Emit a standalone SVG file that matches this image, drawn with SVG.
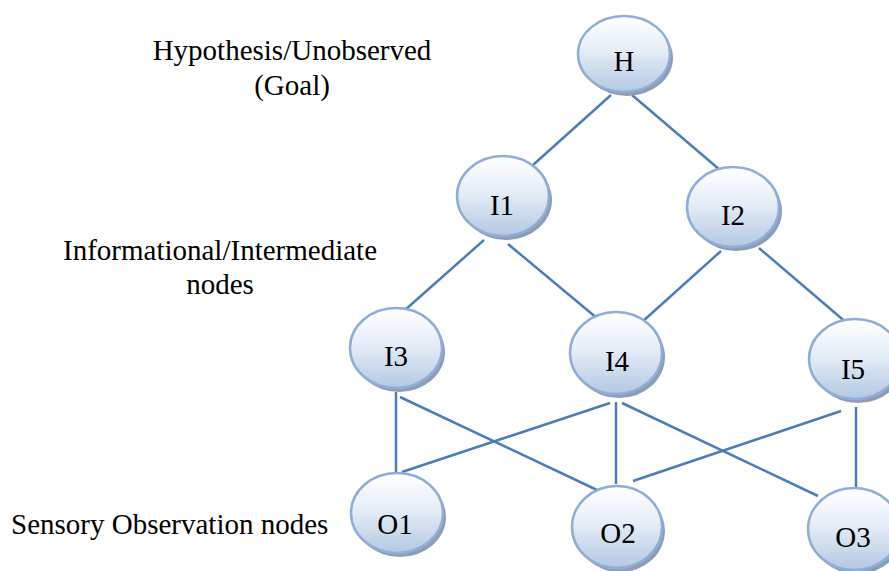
<svg xmlns="http://www.w3.org/2000/svg" width="889" height="571" viewBox="0 0 889 571">
  <defs>
    <linearGradient id="nodeFill" x1="0" y1="0" x2="0" y2="1">
      <stop offset="0" stop-color="#ffffff"/>
      <stop offset="0.45" stop-color="#e6edf7"/>
      <stop offset="1" stop-color="#b3c8e2"/>
    </linearGradient>
  </defs>
  <style>
    .bg { fill: #ffffff; }
    .edge { stroke: #4a7ebb; stroke-width: 2.5; fill: none; }
    .shadow { fill: #8f9db3; }
    .body { fill: url(#nodeFill); stroke: #8fadd9; stroke-width: 2.5; }
    .nlabel { font-family: "Liberation Serif", "Times New Roman", serif; font-size: 29px; fill: #000000; text-anchor: middle; }
    .caption { font-family: "Liberation Serif", "Times New Roman", serif; font-size: 29px; fill: #000000; }
  </style>
  <rect class="bg" x="0" y="0" width="889" height="571"/>

  <!-- level captions -->
  <g id="captions">
    <text class="caption" x="292" y="60" text-anchor="middle">Hypothesis/Unobserved</text>
    <text class="caption" x="292" y="95" text-anchor="middle">(Goal)</text>
    <text class="caption" x="220" y="260" text-anchor="middle">Informational/Intermediate</text>
    <text class="caption" x="220" y="294" text-anchor="middle">nodes</text>
    <text class="caption" x="11" y="534">Sensory Observation nodes</text>
  </g>

  <!-- connectors -->
  <g id="connectors">
    <line class="edge" x1="611" y1="95" x2="533" y2="165"/>
    <line class="edge" x1="632" y1="95" x2="720" y2="170"/>
    <line class="edge" x1="484" y1="240" x2="405" y2="310"/>
    <line class="edge" x1="508" y1="244" x2="598" y2="319"/>
    <line class="edge" x1="721" y1="251" x2="642" y2="322"/>
    <line class="edge" x1="759" y1="248" x2="848" y2="324"/>
    <line class="edge" x1="396" y1="392" x2="396" y2="473"/>
    <line class="edge" x1="400" y1="397" x2="597" y2="490"/>
    <line class="edge" x1="610" y1="403" x2="402" y2="472"/>
    <line class="edge" x1="616" y1="402" x2="616" y2="484"/>
    <line class="edge" x1="622" y1="403" x2="818" y2="496"/>
    <line class="edge" x1="841" y1="411" x2="633" y2="481"/>
    <line class="edge" x1="856" y1="407" x2="856" y2="490"/>
  </g>

  <!-- nodes -->
  <g id="node-H">
    <ellipse class="shadow" cx="627" cy="58" rx="46" ry="38"/>
    <ellipse class="body" cx="624" cy="54" rx="46" ry="38"/>
    <text class="nlabel" x="624" y="71">H</text>
  </g>
  <g id="node-I1">
    <ellipse class="shadow" cx="506" cy="200" rx="46" ry="40"/>
    <ellipse class="body" cx="503" cy="196" rx="46" ry="40"/>
    <text class="nlabel" x="502" y="215">I1</text>
  </g>
  <g id="node-I2">
    <ellipse class="shadow" cx="736" cy="211" rx="46" ry="40"/>
    <ellipse class="body" cx="733" cy="207" rx="46" ry="40"/>
    <text class="nlabel" x="733" y="225">I2</text>
  </g>
  <g id="node-I3">
    <ellipse class="shadow" cx="399" cy="352" rx="46" ry="40"/>
    <ellipse class="body" cx="396" cy="348" rx="46" ry="40"/>
    <text class="nlabel" x="396" y="366">I3</text>
  </g>
  <g id="node-I4">
    <ellipse class="shadow" cx="619" cy="357" rx="46" ry="41"/>
    <ellipse class="body" cx="616" cy="353" rx="46" ry="41"/>
    <text class="nlabel" x="617" y="371">I4</text>
  </g>
  <g id="node-I5">
    <ellipse class="shadow" cx="858" cy="363" rx="46" ry="40"/>
    <ellipse class="body" cx="855" cy="359" rx="46" ry="40"/>
    <text class="nlabel" x="853" y="379">I5</text>
  </g>
  <g id="node-O1">
    <ellipse class="shadow" cx="400" cy="517" rx="46" ry="40"/>
    <ellipse class="body" cx="397" cy="513" rx="46" ry="40"/>
    <text class="nlabel" x="395" y="534">O1</text>
  </g>
  <g id="node-O2">
    <ellipse class="shadow" cx="620" cy="531" rx="45" ry="41"/>
    <ellipse class="body" cx="617" cy="527" rx="45" ry="41"/>
    <text class="nlabel" x="618" y="543">O2</text>
  </g>
  <g id="node-O3">
    <ellipse class="shadow" cx="857" cy="533" rx="46" ry="41"/>
    <ellipse class="body" cx="854" cy="529" rx="46" ry="41"/>
    <text class="nlabel" x="853" y="547">O3</text>
  </g>
</svg>
